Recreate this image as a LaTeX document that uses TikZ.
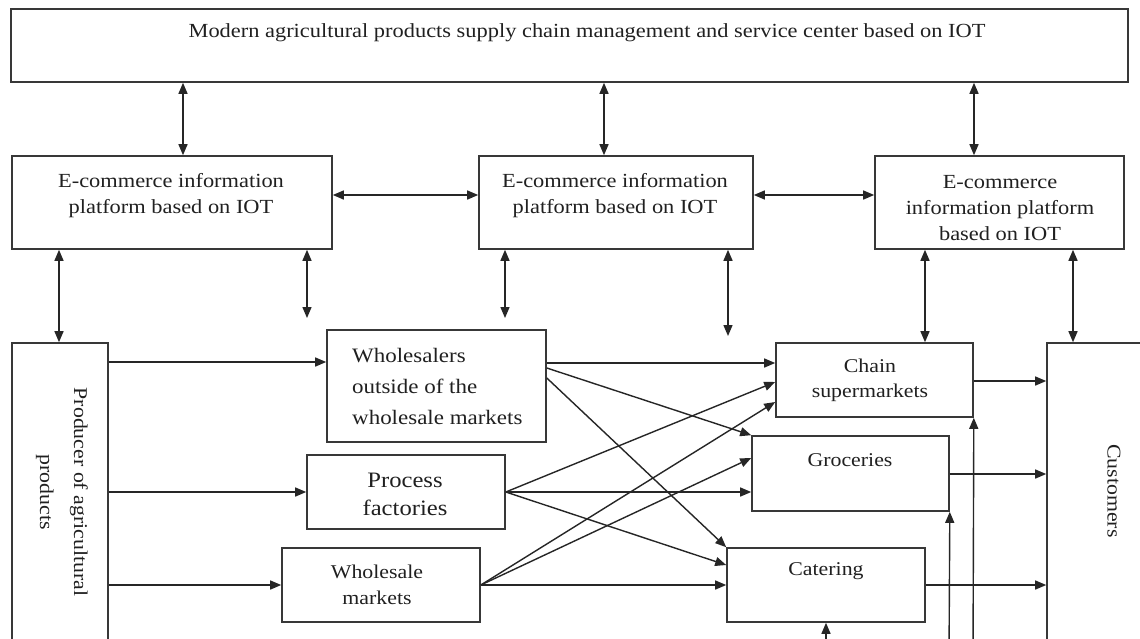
\documentclass[tikz,border=0pt]{standalone}
\usepackage{fontspec}
\setmainfont{Liberation Serif}[FakeStretch=1.12]
\usetikzlibrary{arrows.meta}
\definecolor{boxc}{HTML}{383838}
\definecolor{linec}{HTML}{262626}
\definecolor{textc}{HTML}{202020}
\begin{document}
\begin{tikzpicture}[x=1pt,y=-1pt,
  box/.style={draw=boxc, line width=1.6pt, inner sep=0pt},
  txt/.style={inner sep=0pt, align=center, text=textc, font=\fontsize{20}{26}\selectfont},
  arr/.style={draw=linec, line width=1.4pt, -{Triangle[length=11pt,width=9pt]}},
  darr/.style={draw=linec, line width=1.4pt, {Triangle[length=11pt,width=9pt]}-{Triangle[length=11pt,width=9pt]}},
]
\useasboundingbox (0,0) rectangle (1140,638);
\clip (0,0) rectangle (1140,638);
\fill[white] (0,0) rectangle (1140,638);

% boxes
\node[box, minimum width=1117pt, minimum height=73pt] (top) at (569.5,45.5) {};
\node[txt] (toptxt) at (587,33) {Modern agricultural products supply chain management and service center based on IOT};

\node[box, minimum width=320pt, minimum height=93pt] (p1) at (172,202.5) {};
\node[txt] (p1t) at (171,196) {E-commerce information\\platform based on IOT};
\node[box, minimum width=274pt, minimum height=93pt] (p2) at (616,202.5) {};
\node[txt] (p2t) at (615,196) {E-commerce information\\platform based on IOT};
\node[box, minimum width=249pt, minimum height=93pt] (p3) at (999.5,202.5) {};
\node[txt] (p3t) at (1000,208) {E-commerce\\information platform\\based on IOT};

\node[box, minimum width=96pt, minimum height=357pt] (pr) at (60,521.5) {};
\node[txt, rotate=-90, font=\fontsize{19.5}{34}\selectfont] (prt) at (62,492) {Producer of agricultural\\products};

\node[box, minimum width=219pt, minimum height=112pt] (ws) at (436.5,386) {};
\node[txt, align=left, anchor=west, font=\fontsize{20.5}{31}\selectfont] (wst) at (352,386) {Wholesalers\\outside of the\\wholesale markets};
\node[box, minimum width=198pt, minimum height=74pt] (pf) at (406,492) {};
\node[txt, font=\fontsize{22}{28}\selectfont] (pft) at (405,494) {Process\\factories};
\node[box, minimum width=198pt, minimum height=74pt] (wm) at (381,585) {};
\node[txt, font=\fontsize{19.5}{26}\selectfont] (wmt) at (377,585) {Wholesale\\markets};

\node[box, minimum width=197pt, minimum height=74pt] (cs) at (874.5,380) {};
\node[txt, font=\fontsize{19.5}{25}\selectfont] (cst) at (870,380) {Chain\\supermarkets};
\node[box, minimum width=197pt, minimum height=75pt] (gr) at (850.5,473.5) {};
\node[txt, font=\fontsize{19.5}{25}\selectfont] (grt) at (850,460) {Groceries};
\node[box, minimum width=198pt, minimum height=74pt] (ca) at (826,585) {};
\node[txt, font=\fontsize{19.5}{25}\selectfont] (cat) at (826,571) {Catering};

\node[box, minimum width=113pt, minimum height=357pt] (cu) at (1103.5,521.5) {};
\node[txt, rotate=-90, font=\fontsize{19.5}{25}\selectfont] (cut) at (1114,491) {Customers};

% free ends
\coordinate (f1) at (307,318);
\coordinate (f2) at (505,318);
\coordinate (f3) at (728,336);
\coordinate (b1) at (973,660);
\coordinate (b2) at (949,660);
\coordinate (b3) at (826,660);

% top <-> platforms
\draw[darr] (top.south -| 183,0) -- (p1.north -| 183,0);
\draw[darr] (top.south -| 604,0) -- (p2.north -| 604,0);
\draw[darr] (top.south -| 974,0) -- (p3.north -| 974,0);
% platform <-> platform
\draw[darr] (p1.east |- 0,195) -- (p2.west |- 0,195);
\draw[darr] (p2.east |- 0,195) -- (p3.west |- 0,195);
% platforms <-> lower level
\draw[darr] (p1.south -| 59,0) -- (pr.north -| 59,0);
\draw[darr] (p1.south -| f1) -- (f1);
\draw[darr] (p2.south -| f2) -- (f2);
\draw[darr] (p2.south -| f3) -- (f3);
\draw[darr] (p3.south -| 925,0) -- (cs.north -| 925,0);
\draw[darr] (p3.south -| 1073,0) -- (cu.north -| 1073,0);

% producer -> intermediaries
\draw[arr] (pr.east |- 0,362) -- (ws.west |- 0,362);
\draw[arr] (pr.east |- pf.west) -- (pf.west);
\draw[arr] (pr.east |- wm.west) -- (wm.west);

% wholesalers outside
\draw[arr] (ws.east |- 0,363) -- (cs.west |- 0,363);
\draw[arr] (ws.east |- 0,368) -- (gr.north west);
\draw[arr] (ws.east |- 0,378) -- (ca.north west);
% process factories
\draw[arr] (pf.east) -- (cs.west |- 0,382);
\draw[arr] (pf.east) -- (gr.west |- pf.east);
\draw[arr] (pf.east) -- (ca.west |- 0,565);
% wholesale markets
\draw[arr] (wm.east) -- (cs.west |- 0,402);
\draw[arr] (wm.east) -- (gr.west |- 0,458);
\draw[arr] (wm.east) -- (ca.west);

% retailers -> customers
\draw[arr] (cs.east |- 0,381) -- (cu.west |- 0,381);
\draw[arr] (gr.east |- 0,474) -- (cu.west |- 0,474);
\draw[arr] (ca.east) -- (cu.west |- ca.east);

% from below
\draw[arr] (b1) -- (cs.south east);
\draw[arr] (b2) -- (gr.south east);
\draw[arr] (b3) -- (ca.south);
\end{tikzpicture}
\end{document}
